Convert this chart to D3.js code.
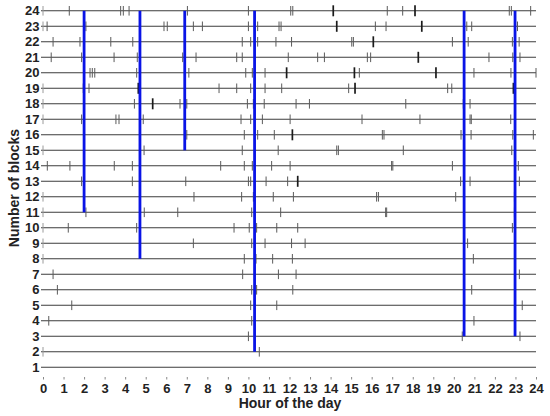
<!DOCTYPE html>
<html>
<head>
<meta charset="utf-8">
<script src="https://cdn.jsdelivr.net/npm/d3@7"></script>
<style>
  html, body { margin: 0; padding: 0; background: #fff; }
  svg { display: block; }
  text { font-family: "Liberation Sans", Arial, sans-serif; font-weight: bold; fill: #222; }
</style>
</head>
<body>
<svg id="chart" width="550" height="416"></svg>
<script>
// ---- data ----
const hourTicks = d3.range(0, 25);           // 0..24
const blockLevels = d3.range(1, 25);         // 1..24

// event marks per number of blocks (hour of the day)
const events = {
  24: [0, 1.28, 3.78, 3.91, 4.19, 7.03, 10.0, 12.06, 12.16, 14.13, 16.76, 17.51, 18.11, 22.7, 22.8, 23.74],
  23: [0, 0.2, 2.09, 5.89, 6.05, 7.32, 7.76, 10.0, 10.45, 11.49, 11.59, 14.3, 16.18, 16.7, 18.44, 20.63, 20.87, 23.1],
  22: [0.49, 1.8, 3.3, 4.37, 9.7, 10.11, 10.45, 11.34, 12.1, 15.03, 15.11, 16.08, 19.93, 20.7, 22.85, 23.18],
  21: [0.4, 1.88, 3.46, 4.59, 6.8, 7.45, 9.43, 9.7, 11.94, 13.37, 13.7, 15.79, 15.95, 18.27, 21.71, 22.87, 23.22],
  20: [2.29, 2.4, 2.52, 4.56, 7.1, 9.87, 10.19, 10.81, 11.86, 15.16, 15.4, 19.13, 20.98, 22.78, 24.0],
  19: [0, 1.96, 2.24, 4.64, 8.57, 9.43, 10.11, 10.81, 11.62, 14.88, 15.19, 19.7, 19.9, 22.9],
  18: [0, 4.45, 5.34, 6.67, 7.0, 9.95, 10.24, 10.77, 12.32, 12.97, 17.66, 20.46, 20.79, 22.98],
  17: [0, 1.88, 3.55, 3.7, 4.88, 9.64, 10.11, 10.68, 12.03, 15.53, 18.35, 20.79, 20.85, 22.77],
  16: [7.0, 9.8, 10.45, 11.26, 12.14, 16.52, 16.6, 20.35, 20.84, 22.87, 23.87],
  15: [0, 4.92, 9.7, 11.45, 14.3, 14.38, 17.54, 22.82],
  14: [0.21, 1.31, 3.47, 4.35, 8.65, 9.8, 10.19, 11.13, 12.03, 16.97, 17.03, 19.93, 23.14],
  13: [1.88, 4.35, 6.95, 10.0, 10.11, 10.86, 11.91, 12.4, 20.33, 20.79, 23.19],
  12: [0, 7.35, 9.67, 10.24, 11.21, 12.19, 16.24, 16.33, 20.09, 22.95],
  11: [0, 2.09, 4.93, 6.56, 10.16, 11.57, 16.68, 16.73, 22.95],
  10: [0, 1.23, 4.56, 9.3, 10.04, 10.4, 11.38, 12.4, 22.85],
  9:  [0, 7.32, 10.16, 10.81, 12.1, 12.76, 20.67],
  8:  [0, 9.8, 10.37, 11.18, 12.14, 20.95],
  7:  [0.49, 9.72, 11.46, 12.32, 23.19],
  6:  [0.7, 10.16, 10.4, 12.16, 20.87],
  5:  [1.4, 10.11, 11.38, 23.33],
  4:  [0.28, 10.16, 20.98],
  3:  [10.0, 20.41, 23.22],
  2:  [0, 10.53],
  1:  []
};

// darker / heavier event marks [blocks, hour]
const darkEvents = [
  [24, 14.13], [24, 18.11], [23, 14.3], [23, 18.44], [22, 16.08], [21, 18.27],
  [20, 11.86], [20, 15.16], [20, 19.13], [19, 4.64], [19, 15.19], [19, 22.9],
  [18, 5.34], [16, 12.14], [13, 12.4]
];

// blue vertical runs: hour and lowest block level (they reach up to 24)
const blueHours = [2.0, 4.72, 6.9, 10.3, 20.5, 22.98];
const blueFrom  = [11, 8, 15, 2, 3, 3];
const blueTo    = [24, 24, 24, 24, 24, 24];

// ---- drawing ----
const svg = d3.select("#chart");
svg.append("rect").attr("width", 550).attr("height", 416).attr("fill", "#fff");

const x = d3.scaleLinear().domain([0, 24]).range([43, 536]);
const y = d3.scaleLinear().domain([1, 24]).range([367.3, 10.8]);

// horizontal lines per block level
svg.append("g").selectAll("line")
  .data(blockLevels).join("line")
  .attr("x1", 41).attr("x2", x(24))
  .attr("y1", d => y(d)).attr("y2", d => y(d))
  .attr("stroke", "#3c3c3c").attr("stroke-width", 1.1);

// event marks
const darkSet = new Set(darkEvents.map(d => d[0] + ":" + d[1]));
const marks = [];
blockLevels.forEach(b => (events[b] || []).forEach(h => marks.push({ b, h, dark: darkSet.has(b + ":" + h) })));

svg.append("g").selectAll("line")
  .data(marks).join("line")
  .attr("x1", d => x(d.h)).attr("x2", d => x(d.h))
  .attr("y1", d => y(d.b) - (d.dark ? 5.5 : 4.8))
  .attr("y2", d => y(d.b) + (d.dark ? 5.5 : 4.8))
  .attr("stroke", d => d.dark ? "#1a1a1a" : (d.h === 0 ? "#9a9a9a" : "#5a5a5a"))
  .attr("stroke-width", d => d.dark ? 1.7 : 1);

// blue lines
svg.append("g").selectAll("line")
  .data(blueHours.map((h, i) => ({ h, from: blueFrom[i], to: blueTo[i] })))
  .join("line")
  .attr("x1", d => x(d.h)).attr("x2", d => x(d.h))
  .attr("y1", d => y(d.to)).attr("y2", d => y(d.from))
  .attr("stroke", "#0a14e6").attr("stroke-width", 2.8);

// x axis
const xAxis = svg.append("g")
  .attr("transform", "translate(0,377)")
  .call(d3.axisBottom(x).tickValues(hourTicks).tickFormat(d3.format("d")).tickSize(2.5).tickPadding(3.8));
xAxis.select(".domain").remove();
xAxis.selectAll(".tick line").attr("stroke", "#888");
xAxis.selectAll("text").style("font-size", "13px").style("font-family", "'Liberation Sans', Arial, sans-serif")
  .style("font-weight", "bold").attr("fill", "#222");

// y axis
const yAxis = svg.append("g")
  .attr("transform", "translate(41,0)")
  .call(d3.axisLeft(y).tickValues(blockLevels).tickFormat(d3.format("d")).tickSize(0).tickPadding(1.5));
yAxis.select(".domain").remove();
yAxis.selectAll("text").style("font-size", "13px").style("font-family", "'Liberation Sans', Arial, sans-serif")
  .style("font-weight", "bold").attr("fill", "#222");

// titles
svg.append("text")
  .attr("x", 290).attr("y", 408)
  .attr("text-anchor", "middle")
  .style("font-size", "14px")
  .text("Hour of the day");

svg.append("text")
  .attr("transform", "translate(19,188) rotate(-90)")
  .attr("text-anchor", "middle")
  .style("font-size", "14px")
  .text("Number of blocks");
</script>
</body>
</html>
